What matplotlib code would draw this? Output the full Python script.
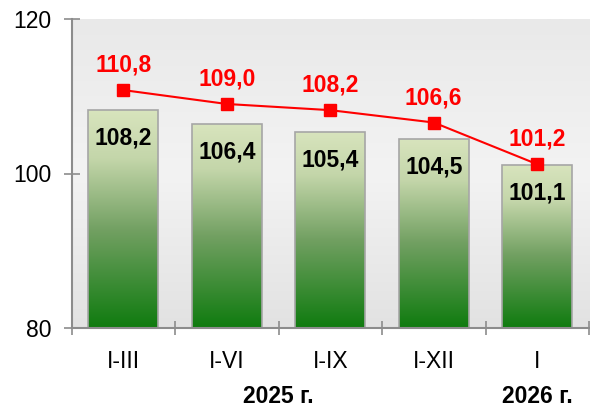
import numpy as np
import matplotlib
matplotlib.use("Agg")
import matplotlib.pyplot as plt
import matplotlib.transforms as mtransforms
from matplotlib.colors import LinearSegmentedColormap

# data
categories = ["I-III", "I-VI", "I-IX", "I-XII", "I"]
bar_values = [108.2, 106.4, 105.4, 104.5, 101.1]
line_values = [110.8, 109.0, 108.2, 106.6, 101.2]
year_labels = ["2025 г.", "2026 г."]
year_positions = [1.5, 4.0]

plt.rcParams['font.family'] = ['Liberation Sans', 'DejaVu Sans']

GRAY = "#8c8c8c"
FS = 16.5


def fmt(v: float) -> str:
    return f"{v:.1f}".replace(".", ",")


def main() -> None:
    fig = plt.figure(figsize=(5.9, 4.09), dpi=100)
    ax = fig.add_axes([71.5 / 590, 1 - 328 / 409, (589 - 71.5) / 590, 309 / 409])

    # plot area background gradient
    bg = LinearSegmentedColormap.from_list("bg", ["#e2e2e2", "#f3f3f3", "#e9e9e9"])
    ax.imshow(np.linspace(0, 1, 256).reshape(-1, 1), cmap=bg, origin="lower",
              extent=[0, 1, 0, 1], transform=ax.transAxes, aspect="auto", zorder=0)

    x = np.arange(len(categories))
    bars = ax.bar(x, [v - 80 for v in bar_values], bottom=80, width=0.675,
                  color="none", edgecolor="#a6a6a6", linewidth=1.2, zorder=2)

    # vertical green gradient inside each bar
    green = LinearSegmentedColormap.from_list(
        "green", [(0, "#0f7b0f"), (0.45, "#72a062"), (0.78, "#c4d6aa"), (1, "#d8e4bd")])
    grad = np.linspace(0, 1, 256).reshape(-1, 1)
    for b in bars:
        x0, y0 = b.get_x(), b.get_y()
        im = ax.imshow(grad, cmap=green, origin="lower", aspect="auto",
                       extent=[x0, x0 + b.get_width(), y0, y0 + b.get_height()], zorder=1.5)
        im.set_clip_path(b)
        ax.annotate(fmt(y0 + b.get_height()), (x0 + b.get_width() / 2, y0 + b.get_height()),
                    xytext=(0, -20), textcoords="offset points", ha="center", va="center",
                    fontsize=FS, fontweight="bold", color="black", zorder=4)

    ax.plot(x, line_values, color="#ff0000", linewidth=1.5, marker="s",
            markersize=9, zorder=3)
    for xi, v in zip(x, line_values):
        ax.annotate(fmt(v), (xi, v), xytext=(0, 18), textcoords="offset points",
                    ha="center", va="center", fontsize=FS, fontweight="bold",
                    color="#ff0000", zorder=4)

    ax.set_xlim(-0.5, len(categories) - 0.5)
    ax.set_ylim(80, 120)
    ax.set_yticks([80, 100, 120])
    ax.set_xticks(x)
    ax.set_xticklabels(categories)
    ax.set_xticks(np.arange(-0.5, len(categories)), minor=True)

    ax.tick_params(axis="y", direction="inout", length=11, width=1.2, color=GRAY,
                   labelsize=FS, pad=9)
    ax.tick_params(axis="x", which="major", length=0, labelsize=FS, pad=16)
    ax.tick_params(axis="x", which="minor", direction="inout", length=10, width=1.2,
                   color=GRAY)

    for s in ["top", "right"]:
        ax.spines[s].set_visible(False)
    for s in ["left", "bottom"]:
        ax.spines[s].set_color(GRAY)
        ax.spines[s].set_linewidth(1.5)
        ax.spines[s].set_zorder(5)

    # year captions under the category labels
    trans = mtransforms.blended_transform_factory(ax.transData, ax.transAxes)
    for label, pos in zip(year_labels, year_positions):
        ax.text(pos, -0.222, label, transform=trans, ha="center", va="center",
                fontsize=FS, fontweight="bold")

    fig.savefig("out.png", dpi=100)


if __name__ == "__main__":
    main()
